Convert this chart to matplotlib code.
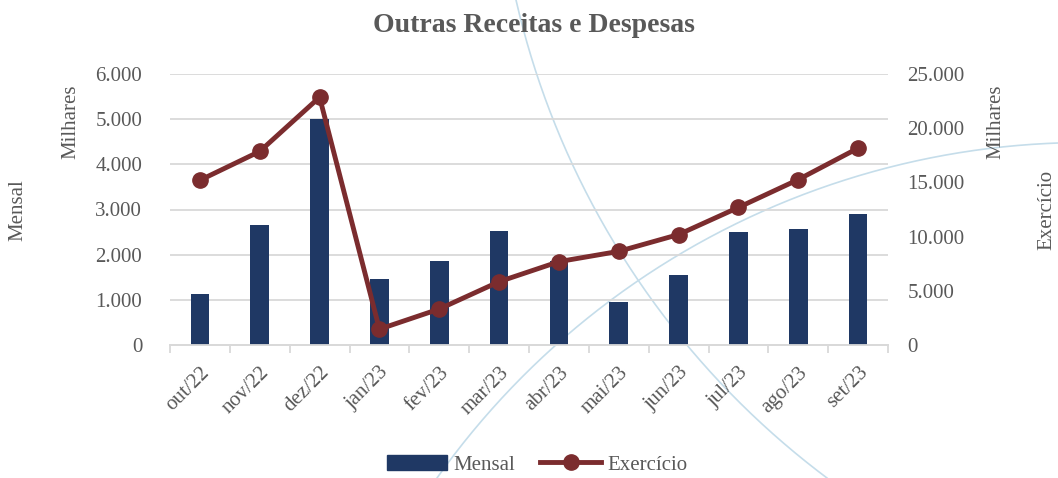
import numpy as np
import matplotlib
matplotlib.use("Agg")
import matplotlib.pyplot as plt
from matplotlib.lines import Line2D
from matplotlib.patches import Patch

meses = ["out/22", "nov/22", "dez/22", "jan/23", "fev/23", "mar/23",
         "abr/23", "mai/23", "jun/23", "jul/23", "ago/23", "set/23"]
mensal = [1130, 2660, 5000, 1460, 1860, 2520, 1850, 950, 1550, 2500, 2570, 2900]
exercicio = [15200, 17860, 22860, 1460, 3320, 5840, 7690, 8640, 10190, 12690, 15260, 18160]

W, H = 1058, 478
COR_BARRA = "#1F3864"
COR_LINHA = "#7B2C2E"
COR_TEXTO = "#595959"
COR_GRADE = "#D9D9D9"
COR_CURVA = "#C5DDEA"
FS = 15

plt.rcParams['font.family'] = ['Liberation Serif', 'DejaVu Serif']

fig = plt.figure(figsize=(W / 100, H / 100), dpi=100)


def px(x, y):
    return x / W, 1 - y / H


def arco(p1, p2, p3, n=200):
    # circle through three pixel points, sampled from p1 to p3 via p2
    (x1, y1), (x2, y2), (x3, y3) = p1, p2, p3
    d = 2 * (x1 * (y2 - y3) + x2 * (y3 - y1) + x3 * (y1 - y2))
    ux = ((x1**2 + y1**2) * (y2 - y3) + (x2**2 + y2**2) * (y3 - y1) + (x3**2 + y3**2) * (y1 - y2)) / d
    uy = ((x1**2 + y1**2) * (x3 - x2) + (x2**2 + y2**2) * (x1 - x3) + (x3**2 + y3**2) * (x2 - x1)) / d
    r = np.hypot(x1 - ux, y1 - uy)
    a1 = np.arctan2(y1 - uy, x1 - ux)
    a2 = np.arctan2(y2 - uy, x2 - ux)
    a3 = np.arctan2(y3 - uy, x3 - ux)
    if (a2 - a1) % (2 * np.pi) < (a3 - a1) % (2 * np.pi):
        span = (a3 - a1) % (2 * np.pi)
    else:
        span = -((a1 - a3) % (2 * np.pi))
    t = a1 + np.linspace(0, span, n)
    return (ux + r * np.cos(t)) / W, 1 - (uy + r * np.sin(t)) / H


# decorative background curves
for pts in [((516, 0), (652, 300), (827, 478)),
            ((437, 478), (607, 303), (1058, 143))]:
    xs, ys = arco(*pts)
    fig.add_artist(Line2D(xs, ys, transform=fig.transFigure, color=COR_CURVA,
                          lw=1.2, zorder=0))

ax = fig.add_axes([170 / W, 1 - 345 / H, (888 - 170) / W, (345 - 74) / H])
ax.set_facecolor("none")
ax2 = ax.twinx()

x = np.arange(len(meses))
ax.bar(x, mensal, width=0.31, color=COR_BARRA, zorder=3)
ax2.plot(x, exercicio, color=COR_LINHA, lw=3.5, marker='o', markersize=11, zorder=4)

ax.set_xlim(-0.5, len(meses) - 0.5)
ax.set_ylim(0, 6000)
ax2.set_ylim(0, 25000)
ax.set_yticks(np.arange(0, 6001, 1000))
ax2.set_yticks(np.arange(0, 25001, 5000))
fmt = lambda v, p: f"{int(v):,}".replace(",", ".")
ax.yaxis.set_major_formatter(plt.FuncFormatter(fmt))
ax2.yaxis.set_major_formatter(plt.FuncFormatter(fmt))

ax.grid(axis='y', color=COR_GRADE, lw=1.3, zorder=0)
ax.set_axisbelow(True)

ax.set_xticks(x)
ax.set_xticklabels(meses, rotation=45, ha='right', va='top', rotation_mode='anchor')
ax.set_xticks(np.arange(-0.5, len(meses), 1), minor=True)
ax.tick_params(axis='x', which='major', length=0, pad=13, labelsize=FS, labelcolor=COR_TEXTO)
ax.tick_params(axis='x', which='minor', length=6, width=1.3, color=COR_GRADE)
ax.tick_params(axis='y', length=0, pad=20, labelsize=FS, labelcolor=COR_TEXTO)
ax2.tick_params(axis='y', length=0, pad=14, labelsize=FS, labelcolor=COR_TEXTO)

for a in (ax, ax2):
    for s in ("top", "left", "right"):
        a.spines[s].set_visible(False)
    a.spines["bottom"].set_color(COR_GRADE)
    a.spines["bottom"].set_linewidth(1.3)

fig.text(*px(534, 26), "Outras Receitas e Despesas", ha='center', va='center',
         fontsize=20, fontweight='bold', color=COR_TEXTO)
fig.text(*px(71, 122), "Milhares", rotation=90, ha='center', va='center', fontsize=FS, color=COR_TEXTO)
fig.text(*px(18, 210), "Mensal", rotation=90, ha='center', va='center', fontsize=FS, color=COR_TEXTO)
fig.text(*px(996, 122), "Milhares", rotation=90, ha='center', va='center', fontsize=FS, color=COR_TEXTO)
fig.text(*px(1047, 210), "Exercício", rotation=90, ha='center', va='center', fontsize=FS, color=COR_TEXTO)

handles = [Patch(color=COR_BARRA, label="Mensal"),
           Line2D([], [], color=COR_LINHA, lw=3.5, marker='o', markersize=11, label="Exercício")]
fig.legend(handles=handles, loc='center', bbox_to_anchor=px(537, 465), ncol=2, frameon=False,
           fontsize=FS, labelcolor=COR_TEXTO, handlelength=2.9, handleheight=0.7,
           handletextpad=0.3, columnspacing=1.2)

fig.savefig("out.png", dpi=100)
